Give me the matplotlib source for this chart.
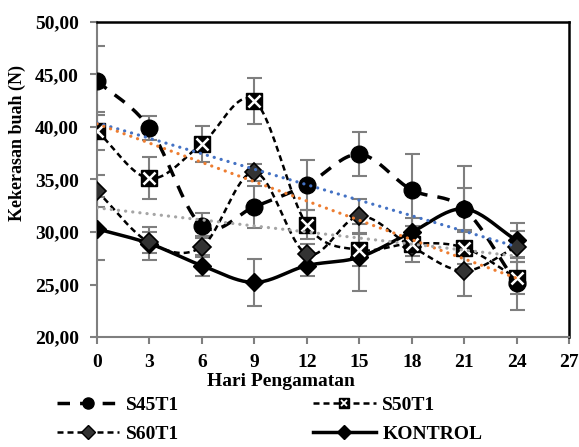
import numpy as np
import matplotlib.pyplot as plt
from matplotlib.lines import Line2D
from matplotlib.legend_handler import HandlerTuple
from matplotlib.ticker import FuncFormatter, MultipleLocator

plt.rcParams['font.family'] = ['Liberation Serif', 'DejaVu Serif']
plt.rcParams['font.weight'] = 'bold'

# data
hari = [0, 3, 6, 9, 12, 15, 18, 21, 24]
s45t1 = [44.4, 39.9, 30.6, 32.4, 34.5, 37.4, 34.0, 32.2, 25.1]
s50t1 = [39.6, 35.1, 38.4, 42.5, 30.7, 28.3, 28.9, 28.5, 25.6]
s60t1 = [33.9, 29.0, 28.6, 35.7, 27.9, 31.5, 28.6, 26.3, 28.6]
kontrol = [30.3, 28.9, 26.8, 25.2, 26.8, 27.6, 30.0, 32.2, 29.2]
err_s45 = [3.3, 1.1, 1.2, 2.0, 2.4, 2.1, 3.4, 4.1, 2.5]
err_s50 = [1.8, 2.0, 1.7, 2.2, 1.4, 1.5, 1.2, 1.5, 1.5]
err_s60 = [1.5, 1.0, 1.0, 0.8, 1.0, 1.6, 1.5, 2.4, 1.5]
err_kon = [3.0, 1.6, 1.0, 2.2, 1.0, 3.2, 1.3, 2.0, 1.7]
# linear trend lines (value at day 0 and day 24)
trend_start = [40.4, 40.3, 32.3]
trend_end = [28.6, 25.6, 27.7]
trend_colors = ['#4472C4', '#ED7D31', '#A5A5A5']


def smooth(x, y, n=24):
    # catmull-rom style smoothing like excel "smoothed line"
    x = np.asarray(x, float)
    y = np.asarray(y, float)
    px = np.concatenate([[2 * x[0] - x[1]], x, [2 * x[-1] - x[-2]]])
    py = np.concatenate([[2 * y[0] - y[1]], y, [2 * y[-1] - y[-2]]])
    xs, ys = [], []
    t = np.linspace(0, 1, n)
    for i in range(1, len(px) - 2):
        p0, p1, p2, p3 = i - 1, i, i + 1, i + 2
        for arr, out in ((px, xs), (py, ys)):
            a, b, c, d = arr[p0], arr[p1], arr[p2], arr[p3]
            b1 = b + (c - a) / 6
            b2 = c - (d - b) / 6
            out.extend((1 - t) ** 3 * b + 3 * (1 - t) ** 2 * t * b1 + 3 * (1 - t) * t ** 2 * b2 + t ** 3 * c)
    return np.array(xs), np.array(ys)


fig = plt.figure(figsize=(5.79, 4.47), dpi=100)
ax = fig.add_axes([0.1675, 0.246, 0.8155, 0.705])

ebkw = dict(fmt='none', ecolor='#7f7f7f', elinewidth=1.5, capsize=5.4, capthick=1.5, zorder=2)
ax.errorbar(hari, s45t1, yerr=err_s45, **ebkw)
ax.errorbar(hari, s50t1, yerr=err_s50, **ebkw)
ax.errorbar(hari, s60t1, yerr=err_s60, **ebkw)
ax.errorbar(hari, kontrol, yerr=err_kon, **ebkw)

long_dash = (0, (3.6, 2.9))
short_dash = (0, (2.4, 1.6))

xs, ys = smooth(hari, kontrol)
ax.plot(xs, ys, color='black', lw=2.5, zorder=3)
ax.plot(hari, kontrol, ls='none', marker='D', ms=9, color='black', zorder=4)

xs, ys = smooth(hari, s60t1)
ax.plot(xs, ys, color='black', lw=1.8, ls=short_dash, zorder=3)
ax.plot(hari, s60t1, ls='none', marker='D', ms=9, mfc='#333333', mec='black', mew=1.2, zorder=4)

xs, ys = smooth(hari, s50t1)
ax.plot(xs, ys, color='black', lw=1.8, ls=short_dash, zorder=3)
ax.plot(hari, s50t1, ls='none', marker='s', ms=11, color='black', zorder=4)
ax.plot(hari, s50t1, ls='none', marker='x', ms=8, mec='white', mew=1.8, zorder=5)

xs, ys = smooth(hari, s45t1)
ax.plot(xs, ys, color='black', lw=2.5, ls=long_dash, zorder=3)
ax.plot(hari, s45t1, ls='none', marker='o', ms=12, color='black', zorder=4)

for y0, y1, c in zip(trend_start, trend_end, trend_colors):
    ax.plot([hari[0], hari[-1]], [y0, y1], color=c, lw=2.3, ls=(0, (0.05, 2.2)),
            dash_capstyle='round', zorder=6)

ax.set_xlim(0, 27)
ax.set_ylim(20, 50)
ax.xaxis.set_major_locator(MultipleLocator(3))
ax.yaxis.set_major_locator(MultipleLocator(5))
ax.yaxis.set_major_formatter(FuncFormatter(lambda v, p: f'{v:.2f}'.replace('.', ',')))
ax.tick_params(axis='both', labelsize=14, color='#7f7f7f', width=1.5, length=5)
ax.tick_params(axis='y', pad=8)
ax.tick_params(axis='x', pad=7)
for lab in ax.get_xticklabels() + ax.get_yticklabels():
    lab.set_fontweight('bold')
for s in ['top', 'right']:
    ax.spines[s].set_color('black')
    ax.spines[s].set_linewidth(1.8)
for s in ['left', 'bottom']:
    ax.spines[s].set_color('#7f7f7f')
    ax.spines[s].set_linewidth(1.5)

fig.text(0.03, 0.68, 'Kekerasan buah (N)', rotation=90, ha='center', va='center',
         fontsize=13, fontweight='bold')
fig.text(0.485, 0.146, 'Hari Pengamatan', ha='center', va='center',
         fontsize=14, fontweight='bold')

h45 = Line2D([], [], color='black', lw=2.5, ls=long_dash, marker='o', ms=8)
h50 = (Line2D([], [], color='black', lw=1.8, ls=short_dash, marker='s', ms=7),
       Line2D([], [], ls='none', marker='x', ms=5, mec='white', mew=1.3))
h60 = Line2D([], [], color='black', lw=1.8, ls=short_dash, marker='D', ms=7, mfc='#333333')
hkon = Line2D([], [], color='black', lw=2.5, marker='D', ms=7)
fig.legend([h45, h60, h50, hkon], ['S45T1', 'S60T1', 'S50T1', 'KONTROL'],
           handler_map={tuple: HandlerTuple(ndivide=1, pad=0)},
           loc='center left', bbox_to_anchor=(0.085, 0.0615), borderaxespad=0,
           ncol=2, frameon=False, handlelength=3.2, handletextpad=0.35,
           columnspacing=6.9, labelspacing=0.6, prop={'weight': 'bold', 'size': 14})

fig.savefig('out.png', dpi=100)
